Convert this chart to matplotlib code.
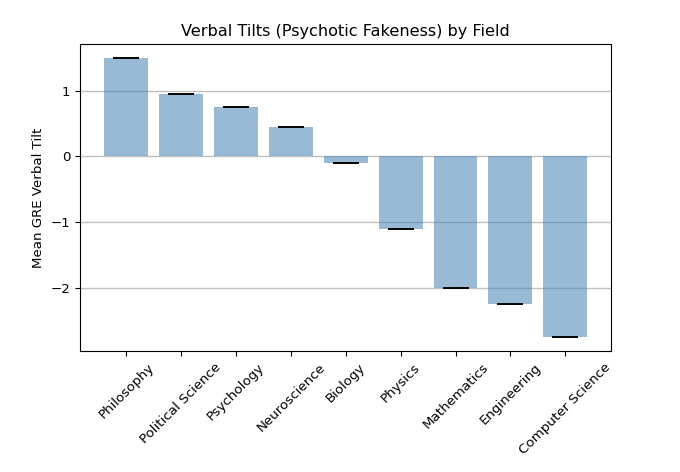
import matplotlib

matplotlib.use("Agg")

import matplotlib.pyplot as plt
import numpy as np

fields = [
    "Philosophy",
    "Political Science",
    "Psychology",
    "Neuroscience",
    "Biology",
    "Physics",
    "Mathematics",
    "Engineering",
    "Computer Science",
]
verbal_tilt = [1.5, 0.95, 0.75, 0.45, -0.1, -1.1, -2.0, -2.25, -2.75]
errors = [0, 0, 0, 0, 0, 0, 0, 0, 0]

plt.rcParams["font.size"] = 9.65

fig = plt.figure(figsize=(6.8, 4.72), dpi=100)
ax = fig.add_axes([0.118, 0.256, 0.781, 0.651])

x = np.arange(len(fields))
ax.bar(x, verbal_tilt, yerr=errors, width=0.8, color="steelblue", alpha=0.55,
       capsize=9.5, error_kw={"ecolor": "black", "capthick": 1.2}, zorder=2)
ax.set_xticks(x)
ax.set_xticklabels(fields, rotation=45)
ax.set_ylabel("Mean GRE Verbal Tilt")
ax.set_title("Verbal Tilts (Psychotic Fakeness) by Field", fontsize=11.6)
ax.yaxis.grid(True, color="#c0c0c0", linewidth=1.0, zorder=0)
ax.set_axisbelow(True)

fig.savefig("out.png", dpi=100)
plt.close(fig)
